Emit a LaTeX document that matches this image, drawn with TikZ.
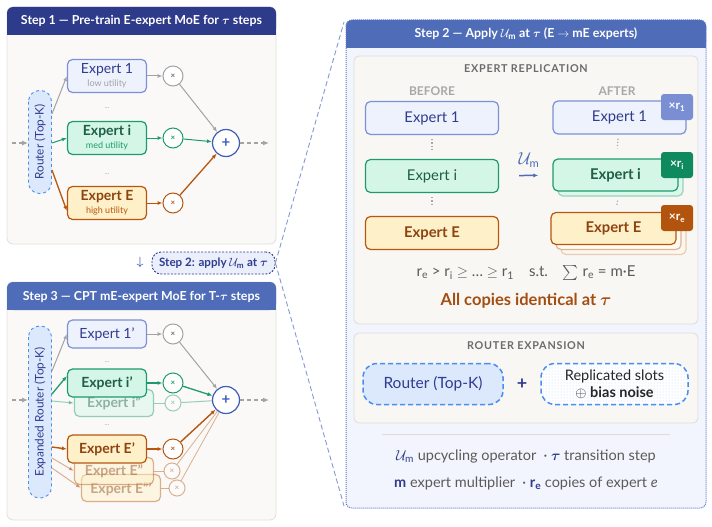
\documentclass[tikz,border=0pt]{standalone}
\usepackage{amsmath,amssymb}
\usepackage{fontspec}
\setmainfont{Lato}
\usetikzlibrary{arrows.meta,calc,patterns,positioning}
\definecolor{hdrnavy}{HTML}{2E3A8A}
\definecolor{hdrblue}{HTML}{4F6CB8}
\definecolor{panelbg}{HTML}{FAF9F7}
\definecolor{panelline}{HTML}{E2E0DB}
\definecolor{navytxt}{HTML}{2F3C8F}
\definecolor{eoneline}{HTML}{7C91D6}
\definecolor{eonefill}{HTML}{EEF2FD}
\definecolor{emidline}{HTML}{1E9B6E}
\definecolor{emidfill}{HTML}{D3F6E6}
\definecolor{emidtxt}{HTML}{1F5F47}
\definecolor{ehighline}{HTML}{B7560F}
\definecolor{ehighfill}{HTML}{FEF1C9}
\definecolor{ehightxt}{HTML}{8E4210}
\definecolor{gry}{HTML}{A3A3A3}
\definecolor{routerfill}{HTML}{DCE8FC}
\definecolor{routerline}{HTML}{4A8DF2}
\definecolor{plusline}{HTML}{3D5DB8}
\definecolor{rightbg}{HTML}{F2F5FD}
\definecolor{rightline}{HTML}{5B77C4}
\definecolor{innerbg}{HTML}{F8F7F4}
\definecolor{innerline}{HTML}{DEDCD6}
\definecolor{titlegray}{HTML}{6B6B6B}
\definecolor{lightgray}{HTML}{A8A8A8}
\definecolor{badgeone}{HTML}{7A8FD3}
\definecolor{badgemid}{HTML}{0E8A5E}
\definecolor{badgehigh}{HTML}{B3540E}
\definecolor{eqgray}{HTML}{5A5A5A}
\definecolor{alltxt}{HTML}{A44E12}
\definecolor{pillfill}{HTML}{EAEFFB}

\newcommand{\Um}{$\mathcal{U}_{\text{m}}$}
\newcommand{\btau}{$\boldsymbol{\tau}$}
\newcommand{\px}[1]{\fontsize{#1}{#1}\selectfont}

\begin{document}
\begin{tikzpicture}[x=1pt,y=-1pt,
  panel/.style={fill=panelbg,draw=panelline,rounded corners=6pt,line width=0.8pt},
  hdr/.style={text=white,font=\px{12.4}\bfseries},
  expert/.style={rounded corners=5pt,line width=1.2pt,minimum width=79pt,
                 minimum height=33pt,inner sep=1pt,align=center,font=\px{14}},
  eone/.style={expert,draw=eoneline,fill=eonefill,text=navytxt},
  emid/.style={expert,draw=emidline,fill=emidfill,text=emidtxt,font=\px{14}\bfseries},
  ehigh/.style={expert,draw=ehighline,fill=ehighfill,text=ehightxt,font=\px{14}\bfseries},
  faded/.style={opacity=0.45},
  router/.style={rotate=90,rounded corners=11pt,dashed,draw=routerline,fill=routerfill,
                 text=navytxt,minimum height=23pt,inner sep=0pt,line width=0.9pt,font=\px{11.8}},
  mult/.style={circle,draw,fill=white,minimum size=20pt,inner sep=0pt,line width=1pt,
               font=\px{8}\bfseries},
  summ/.style={circle,draw=plusline,fill=white,line width=1.2pt,minimum size=27pt,
               inner sep=0pt,text=plusline,font=\px{15}\bfseries},
  ell/.style={text=gry,font=\px{7}},
  flow/.style={gry,line width=1.2pt,dash pattern=on 4pt off 3pt,-{Latex[length=6pt,width=5pt]}},
  tip/.style={line width=1pt,-{Latex[length=5pt,width=4pt]}},
  link/.style={rightline!75,line width=0.9pt,dash pattern=on 5pt off 3pt},
  subttl/.style={text=titlegray,font=\px{10.8}\bfseries\addfontfeatures{LetterSpace=7}},
  colttl/.style={text=lightgray,font=\px{12}\bfseries},
  bigexp/.style={expert,minimum width=133pt,font=\px{14.8}},
  stackexp/.style={expert,minimum width=125pt,minimum height=32pt,font=\px{14.8}\bfseries},
  badge/.style={rounded corners=3pt,minimum width=32pt,minimum height=26pt,inner sep=0pt,
                text=white,font=\px{12}\bfseries},
  vdots/.style={lightgray,line width=1.2pt,dotted,shorten <=4pt,shorten >=10pt},
  legend/.style={text=eqgray,font=\px{14.5}}
]
\useasboundingbox (0,0) rectangle (712,527);

% ---- step 1 panel
\draw[panel] (7,7) rectangle (276,244);
\fill[hdrnavy,rounded corners=6pt] (7,7) rectangle (276,35);
\fill[hdrnavy] (7,25) rectangle (276,35);
\node[hdr] (h1) at (141.5,21) {Step 1 — Pre-train E-expert MoE for \btau\ steps};

\node[router,minimum width=103pt] (r1) at (40,142) {Router (Top-K)};
\node[eone] (x1) at (107,76) {Expert 1\\[-1pt]{\px{9}\color{gry}low utility}};
\node[emid] (xi) at (107,138) {Expert i\\[-1pt]{\px{9}\mdseries\color{emidline}med utility}};
\node[ehigh] (xE) at (107,203) {Expert E\\[-1pt]{\px{9}\mdseries\color{ehighline}high utility}};
\node[ell] (d1) at (107,108) {...};
\node[ell] (d2) at (107,174) {...};
\node[mult,draw=gry,text=titlegray] (m1) at (173,76) {×};
\node[mult,draw=emidline,text=emidline] (mi) at (173,138) {×};
\node[mult,draw=ehighline,text=ehighline] (mE) at (173,203) {×};
\node[summ] (s1) at (226,143) {+};
\coordinate (in1) at (12,143);
\coordinate (out1) at (269,143);

\draw[flow] (in1) -- (r1.north |- in1);
\draw[flow] (s1) -- (out1);
\draw[tip,gry] ($(r1.south)+(0,-28)$) -- (x1.west);
\draw[tip,emidline] ($(r1.south)+(0,1)$) -- (xi.west);
\draw[tip,ehighline,line width=1.3pt] ($(r1.south)+(0,28)$) -- ($(xE.west)+(0,8)$);
\draw[tip,gry] (x1) -- (m1);
\draw[tip,emidline] (xi) -- (mi);
\draw[tip,ehighline] (xE) -- (mE);
\draw[tip,gry] (m1) -- (s1);
\draw[tip,emidline] (mi) -- (s1);
\draw[tip,ehighline,line width=1.3pt] (mE) -- (s1);

% ---- step 2 hand-off
\node[text=hdrblue,font=\px{13}] (dn) at (140,262) {$\boldsymbol{\downarrow}$};
\node[draw=navytxt,fill=pillfill,rounded corners=9pt,dash pattern=on 2pt off 1.5pt,line width=0.9pt,
      minimum width=123pt,minimum height=22pt,inner sep=2pt,text=navytxt,font=\px{11.6}\bfseries] (st2) at (213.5,263)
  {Step 2: apply \Um\ at \btau};

% ---- step 3 panel
\draw[panel] (7,282) rectangle (276,520);
\fill[hdrblue,rounded corners=6pt] (7,282) rectangle (276,310);
\fill[hdrblue] (7,300) rectangle (276,310);
\node[hdr] (h3) at (141.5,297) {Step 3 — CPT mE-expert MoE for T-\btau\ steps};

\node[router,minimum width=172pt] (r3) at (40,412) {Expanded Router (Top-K)};
\node[ehigh,faded,minimum height=27pt,text depth=0pt] (xEppp) at (121,488) {Expert E”’};
\node[ehigh,faded,minimum height=27pt] (xEpp) at (114,471) {Expert E”};
\node[ehigh,minimum height=28pt] (xEp) at (107,449) {Expert E’};
\node[emid,faded,minimum height=27pt] (xipp) at (114,403) {Expert i”};
\node[emid,minimum height=28pt] (xip) at (107,383) {Expert i’};
\node[eone,minimum height=28pt] (x1p) at (107,334) {Expert 1’};
\node[ell] (d3) at (107,362) {...};
\node[ell] (d4) at (107,425) {...};
\node[mult,draw=gry,text=titlegray] (m1p) at (173,334) {×};
\node[mult,draw=emidline,text=emidline] (mip) at (173,383) {×};
\node[mult,faded,draw=emidline,text=emidline,minimum size=16pt] (mipp) at (173,403) {×};
\node[mult,draw=ehighline,text=ehighline] (mEp) at (173,449) {×};
\node[mult,faded,draw=ehighline,text=ehighline,minimum size=16pt] (mEpp) at (172,471) {×};
\node[mult,faded,draw=ehighline,text=ehighline,minimum size=16pt] (mEppp) at (177,488) {×};
\node[summ] (s3) at (226,400) {+};
\coordinate (in3) at (12,400);
\coordinate (out3) at (269,400);

\draw[flow] (in3) -- (r3.north |- in3);
\draw[flow] (s3) -- (out3);
\draw[tip,gry] ($(r3.south)+(0,-41)$) -- (x1p.west);
\draw[tip,emidline,line width=1.3pt] ($(r3.south)+(0,-18)$) -- ($(xip.west)+(0,-7)$);
\draw[tip,emidline,faded] ($(r3.south)+(0,-11)$) -- (xipp.west);
\draw[tip,ehighline,line width=1.4pt] ($(r3.south)+(0,35)$) -- (xEp.west);
\draw[tip,ehighline,faded] ($(r3.south)+(0,46)$) -- (xEpp.west);
\draw[tip,ehighline,faded] ($(r3.south)+(0,56)$) -- (xEppp.west);
\draw[tip,gry] (x1p) -- (m1p);
\draw[tip,emidline,line width=1.4pt] (xip) -- (mip);
\draw[emidline,faded,line width=1pt] (xipp) -- (mipp);
\draw[tip,ehighline,line width=1.4pt] (xEp) -- (mEp);
\draw[ehighline,faded,line width=1pt] (xEpp) -- (mEpp);
\draw[ehighline,faded,line width=1pt] (xEppp) -- (mEppp);
\draw[tip,gry] (m1p) -- (s3);
\draw[tip,emidline,line width=1.3pt] (mip) -- (s3);
\draw[emidline,faded,line width=1pt] (mipp) -- (s3);
\draw[tip,ehighline,line width=1.4pt] (mEp) -- (s3);
\draw[ehighline,faded,line width=0.8pt] (mEpp) -- (s3) (mEppp) -- (s3);

% ---- step 2 detail panel
\fill[rightbg,rounded corners=6pt] (346,20) rectangle (706,508);
\fill[hdrblue,rounded corners=6pt] (346,20) rectangle (706,48);
\fill[hdrblue] (346,38) rectangle (706,48);
\draw[rightline,densely dotted,line width=1pt,rounded corners=6pt] (346,20) rectangle (706,508);
\node[hdr] (h2) at (526,34)
  {Step 2 — Apply \Um\ at \btau\ (E $\rightarrow$ mE experts)};
\coordinate (lnk1) at (344,22);
\coordinate (lnk2) at (344,506);
\draw[link] (st2.east) -- (lnk1);
\draw[link] (st2.east) -- (lnk2);

% expert replication
\draw[fill=innerbg,draw=innerline,line width=0.8pt,rounded corners=5pt] (354,56) rectangle (698,324);
\node[subttl] (t1) at (526,69) {EXPERT REPLICATION};
\node[colttl] (bf) at (432,91) {BEFORE};
\node[colttl] (af) at (617,91) {AFTER};

\node[bigexp,draw=eoneline,fill=eonefill,text=navytxt] (bx1) at (432,118) {Expert 1};
\node[bigexp,draw=emidline,fill=emidfill,text=emidtxt] (bxi) at (432,176) {Expert i};
\node[bigexp,draw=ehighline,fill=ehighfill,text=ehightxt,font=\px{14.8}\bfseries] (bxE) at (432,233) {Expert E};
\draw[vdots] (bx1) -- (bxi);
\draw[vdots] (bxi) -- (bxE);

\node[text=hdrblue,font=\px{16}] (um) at (529,160) {\Um};
\node[bigexp,draw=eoneline,fill=eonefill,text=navytxt] (ax1) at (619.5,117.5) {Expert 1};
\node[stackexp,draw=emidline!45,fill=emidfill!80] (axib) at (620.5,180) {};
\node[stackexp,draw=emidline,fill=emidfill,text=emidtxt] (axi) at (615.5,175) {Expert i};
\node[stackexp,draw=ehighline!30,fill=ehighfill!80!ehighline!20] (axEc) at (623.5,238.5) {};
\node[stackexp,draw=ehighline!45,fill=ehighfill!90!ehighline!15] (axEb) at (618.5,233.5) {};
\node[stackexp,draw=ehighline,fill=ehighfill,text=ehightxt] (axE) at (613.5,228.5) {Expert E};
\node[badge,fill=badgeone] (bg1) at (677,107) {×r\textsubscript{1}};
\node[badge,fill=badgemid] (bgi) at (677,165) {×r\textsubscript{i}};
\node[badge,fill=badgehigh] (bgE) at (677,218) {×r\textsubscript{e}};
\draw[vdots] (ax1) -- (axi);
\draw[vdots,shorten >=6pt] (axib) -- (axE);
\draw[tip,hdrblue,line width=1.5pt,shorten <=20pt,shorten >=14pt] (bxi) -- (axi);

\node[text=eqgray,font=\px{15}] (eq) at (526,273)
  {r\textsubscript{e} > r\textsubscript{i} $\geq$ … $\geq$ r\textsubscript{1}\quad s.t.\quad $\sum$ r\textsubscript{e} = m·E};
\node[text=alltxt,font=\px{16.5}\bfseries] (al) at (526,301) {All copies identical at \btau};

% router expansion
\draw[fill=innerbg,draw=innerline,line width=0.8pt,rounded corners=5pt] (354,333) rectangle (698,423);
\node[subttl] (t2) at (526,346) {ROUTER EXPANSION};
\node[draw=routerline,fill=routerfill,line width=1.5pt,dash pattern=on 5pt off 3pt,rounded corners=14pt,
      minimum width=140pt,minimum height=41pt,text=navytxt,font=\px{15.5}] (rt) at (433,384) {Router (Top-K)};
\node[text=navytxt,font=\px{18}\bfseries] (pl) at (522,384) {+};
\node[draw=routerline,preaction={fill=white},pattern=dots,pattern color=routerline!35,line width=1.5pt,
      dash pattern=on 5pt off 3pt,rounded corners=14pt,minimum width=147pt,minimum height=41pt,
      inner sep=1pt,align=center,text=black!85,font=\fontsize{14.5}{17}\selectfont] (rs) at (614.5,384)
  {Replicated slots\\$\oplus$ \textbf{bias noise}};

% legend
\coordinate (sepa) at (382,434);
\coordinate (sepb) at (670,434);
\draw[innerline,line width=0.8pt] (sepa) -- (sepb);
\node[legend] (lg1) at (526,456)
  {{\color{navytxt}\Um} upcycling operator\enspace · {\color{navytxt}\btau} transition step};
\node[legend] (lg2) at (526,483)
  {{\color{navytxt}\textbf{m}} expert multiplier\enspace · {\color{navytxt}\textbf{r}\textsubscript{\textbf{e}}} copies of expert \textit{e}};
\end{tikzpicture}
\end{document}
